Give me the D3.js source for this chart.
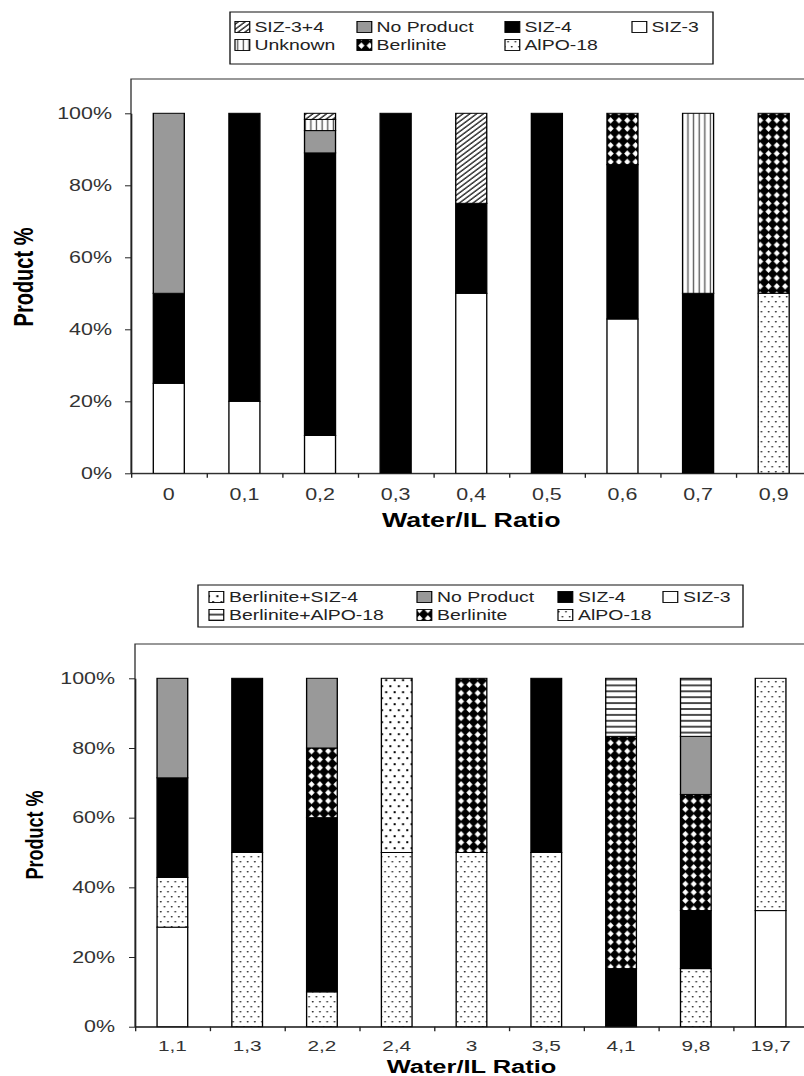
<!DOCTYPE html>
<html>
<head>
<meta charset="utf-8">
<script src="https://cdn.jsdelivr.net/npm/d3@7"></script>
<style>
  body { margin: 0; background: #fff; }
  svg { display: block; }
  text { font-family: "Liberation Sans", Arial, sans-serif; }
</style>
</head>
<body>
<svg id="chart" width="804" height="1076"></svg>
<script>
// The source picture is stretched sideways, so everything is drawn
// in an unstretched space and scaled by SX on x.
const SX = 1.34;

// ---- top chart: series listed bottom-to-top of the stack ----
const topRatios    = ["0", "0,1", "0,2", "0,3", "0,4", "0,5", "0,6", "0,7", "0,9"];
const topSeries    = ["SIZ-3", "AlPO-18", "SIZ-4", "Berlinite", "No Product", "Unknown", "SIZ-3+4"];
const topSIZ3      = [25, 20, 10.5, 0, 50, 0, 42.86, 0, 0];
const topAlPO18    = [0, 0, 0, 0, 0, 0, 0, 0, 50];
const topSIZ4      = [25, 80, 78.5, 100, 25, 100, 42.86, 50, 0];
const topBerlinite = [0, 0, 0, 0, 0, 0, 14.28, 0, 50];
const topNoProduct = [50, 0, 6.2, 0, 0, 0, 0, 0, 0];
const topUnknown   = [0, 0, 3.1, 0, 0, 0, 0, 50, 0];
const topSIZ34     = [0, 0, 1.7, 0, 25, 0, 0, 0, 0];

// ---- bottom chart ----
const botRatios    = ["1,1", "1,3", "2,2", "2,4", "3", "3,5", "4,1", "9,8", "19,7"];
const botSeries    = ["SIZ-3", "AlPO-18", "SIZ-4", "Berlinite", "No Product", "Berlinite+AlPO-18", "Berlinite+SIZ-4"];
const botSIZ3      = [28.57, 0, 0, 0, 0, 0, 0, 0, 33.33];
const botAlPO18    = [14.29, 50, 10, 50, 50, 50, 0, 16.67, 66.67];
const botSIZ4      = [28.57, 50, 50, 0, 0, 50, 16.67, 16.67, 0];
const botBerlinite = [0, 0, 20, 0, 50, 0, 66.67, 33.33, 0];
const botNoProduct = [28.57, 0, 20, 0, 0, 0, 0, 16.67, 0];
const botBerlAlPO  = [0, 0, 0, 0, 0, 0, 16.66, 16.66, 0];
const botBerlSIZ4  = [0, 0, 0, 50, 0, 0, 0, 0, 0];

const yTicks = [0, 20, 40, 60, 80, 100];

const fills = {
    "SIZ-3": "#fff",
    "SIZ-4": "#000",
    "No Product": "#999",
    "SIZ-3+4": "url(#hatch)",
    "Unknown": "url(#vlines)",
    "Berlinite": "url(#diamond)",
    "AlPO-18": "url(#dots)",
    "Berlinite+AlPO-18": "url(#hlines)",
    "Berlinite+SIZ-4": "url(#bigdots)"
};

const svg = d3.select("#chart");
const defs = svg.append("defs");

// diagonal hatch
const hatch = defs.append("pattern").attr("id", "hatch")
    .attr("patternUnits", "userSpaceOnUse").attr("width", 3.6).attr("height", 3.6)
    .attr("patternTransform", "rotate(45)");
hatch.append("rect").attr("width", 3.6).attr("height", 3.6).attr("fill", "#fff");
hatch.append("line").attr("x1", 0.8).attr("x2", 0.8).attr("y1", 0).attr("y2", 3.6)
    .attr("stroke", "#222").attr("stroke-width", 1.2);

// vertical lines
const vl = defs.append("pattern").attr("id", "vlines")
    .attr("patternUnits", "userSpaceOnUse").attr("width", 4.2).attr("height", 4);
vl.append("rect").attr("width", 4.2).attr("height", 4).attr("fill", "#fff");
vl.append("line").attr("x1", 1).attr("x2", 1).attr("y1", 0).attr("y2", 4)
    .attr("stroke", "#555").attr("stroke-width", 1);

// horizontal lines
const hl = defs.append("pattern").attr("id", "hlines")
    .attr("patternUnits", "userSpaceOnUse").attr("width", 4).attr("height", 5.9);
hl.append("rect").attr("width", 4).attr("height", 5.9).attr("fill", "#fff");
hl.append("line").attr("x1", 0).attr("x2", 4).attr("y1", 1).attr("y2", 1)
    .attr("stroke", "#000").attr("stroke-width", 1.4);

// berlinite: white diamonds on black
const dm = defs.append("pattern").attr("id", "diamond")
    .attr("patternUnits", "userSpaceOnUse").attr("width", 6.2).attr("height", 8.3);
dm.append("rect").attr("width", 6.2).attr("height", 8.3).attr("fill", "#000");
dm.append("polygon").attr("points", "3.1,1.0 5.4,4.15 3.1,7.3 0.8,4.15").attr("fill", "#fff");

// small dots
const dt = defs.append("pattern").attr("id", "dots")
    .attr("patternUnits", "userSpaceOnUse").attr("width", 5.4).attr("height", 10);
dt.append("rect").attr("width", 5.4).attr("height", 10).attr("fill", "#fff");
dt.append("circle").attr("cx", 1.2).attr("cy", 1.8).attr("r", 0.75).attr("fill", "#222");
dt.append("circle").attr("cx", 3.9).attr("cy", 6.8).attr("r", 0.75).attr("fill", "#222");

// big dots
const bd = defs.append("pattern").attr("id", "bigdots")
    .attr("patternUnits", "userSpaceOnUse").attr("width", 6.3).attr("height", 12);
bd.append("rect").attr("width", 6.3).attr("height", 12).attr("fill", "#fff");
bd.append("rect").attr("x", 0.8).attr("y", 1.2).attr("width", 1.5).attr("height", 2).attr("fill", "#000");
bd.append("rect").attr("x", 3.95).attr("y", 7.2).attr("width", 1.5).attr("height", 2).attr("fill", "#000");

const root = svg.append("g").attr("transform", `scale(${SX},1)`);

function drawPanel(p) {
    const g = root.append("g");
    const n = p.ratios.length;

    // build rows for d3.stack
    const table = p.ratios.map((r, i) => {
        const row = { ratio: r };
        p.series.forEach((s, j) => { row[s] = p.values[j][i]; });
        return row;
    });
    const stacked = d3.stack().keys(p.series)(table);

    const x = d3.scaleBand().domain(p.ratios).range([p.left, p.right])
        .paddingInner(0.59).paddingOuter(0.295);
    const xEdge = d3.scaleLinear().domain([0, n]).range([p.left, p.right]);
    const y = d3.scaleLinear().domain([0, 100]).range([p.bottom, p.top]);

    // plot area frame (right edge falls off the page)
    g.append("rect")
        .attr("x", p.left).attr("y", p.frameTop)
        .attr("width", 650 - p.left).attr("height", p.bottom - p.frameTop)
        .attr("fill", "none").attr("stroke", "#333").attr("stroke-width", 1);

    // stacked segments
    stacked.forEach(layer => {
        g.append("g").selectAll("rect")
            .data(layer.filter(d => d[1] - d[0] > 0))
            .enter()
            .append("rect")
            .attr("x", d => x(d.data.ratio))
            .attr("width", x.bandwidth())
            .attr("y", d => y(d[1]))
            .attr("height", d => y(d[0]) - y(d[1]))
            .attr("fill", fills[layer.key])
            .attr("stroke", "#000")
            .attr("stroke-width", 1);
    });

    // y axis
    const yAxis = g.append("g")
        .attr("transform", `translate(${p.left},0)`)
        .call(d3.axisLeft(y).tickValues(yTicks).tickFormat(d => d + "%")
            .tickSize(4.5).tickSizeOuter(0).tickPadding(p.yPad));
    yAxis.attr("color", "#222");
    yAxis.selectAll("text").attr("font-size", 16).attr("font-family", "Liberation Sans, Arial, sans-serif")
        .attr("fill", "#333");

    // x axis line with ticks between categories
    g.append("g")
        .attr("transform", `translate(0,${p.bottom})`)
        .attr("color", "#222")
        .call(d3.axisBottom(xEdge).tickValues(d3.range(0, n + 1)).tickFormat("")
            .tickSize(4.5).tickSizeOuter(0));

    // category labels
    const xAxis = g.append("g")
        .attr("transform", `translate(0,${p.bottom})`)
        .call(d3.axisBottom(x).tickSize(0).tickPadding(p.xPad));
    xAxis.select(".domain").remove();
    xAxis.selectAll("text").attr("font-size", p.xFont).attr("font-family", "Liberation Sans, Arial, sans-serif")
        .attr("fill", "#333");

    // axis titles
    g.append("text")
        .attr("x", (p.left + p.right) / 2)
        .attr("y", p.xTitleY)
        .attr("text-anchor", "middle")
        .attr("font-weight", "bold")
        .attr("font-size", p.xTitleSize)
        .text("Water/IL Ratio");

    g.append("text")
        .attr("transform", `translate(${p.yTitleX},${p.yTitleY}) rotate(-90)`)
        .attr("text-anchor", "middle")
        .attr("font-weight", "bold")
        .attr("font-size", p.yTitleSize)
        .text("Product %");

    // legend, column-major, two rows, series reversed
    const lg = g.append("g");
    lg.append("rect")
        .attr("x", p.legend.x0).attr("y", p.legend.y0)
        .attr("width", p.legend.x1 - p.legend.x0).attr("height", p.legend.y1 - p.legend.y0)
        .attr("fill", "#fff").attr("stroke", "#111").attr("stroke-width", 1);
    const items = p.series.slice().reverse();
    items.forEach((name, i) => {
        const cx = p.legend.cols[Math.floor(i / 2)];
        const cy = p.legend.rows[i % 2];
        lg.append("rect")
            .attr("x", cx).attr("y", cy - 5.5)
            .attr("width", 11).attr("height", 11)
            .attr("fill", fills[name]).attr("stroke", "#000").attr("stroke-width", 0.9);
        lg.append("text")
            .attr("x", cx + p.legend.textGap).attr("y", cy + 5)
            .attr("font-size", 14.5).attr("fill", "#222")
            .text(name);
    });
}

drawPanel({
    ratios: topRatios,
    series: topSeries,
    values: [topSIZ3, topAlPO18, topSIZ4, topBerlinite, topNoProduct, topUnknown, topSIZ34],
    left: 131 / SX, right: 811.5 / SX,
    top: 113.3, bottom: 473.3, frameTop: 79,
    yPad: 9.7, xPad: 15.3, xFont: 16,
    xTitleY: 527, xTitleSize: 20,
    yTitleX: 24.6, yTitleY: 277, yTitleSize: 20,
    legend: {
        x0: 230 / SX, x1: 713 / SX, y0: 12, y1: 64,
        cols: [235 / SX, 357 / SX, 505 / SX, 632 / SX],
        rows: [27, 45], textGap: 14.5
    }
});

drawPanel({
    ratios: botRatios,
    series: botSeries,
    values: [botSIZ3, botAlPO18, botSIZ4, botBerlinite, botNoProduct, botBerlAlPO, botBerlSIZ4],
    left: 135 / SX, right: 808 / SX,
    top: 678.3, bottom: 1026.7, frameTop: 644,
    yPad: 10.4, xPad: 12.9, xFont: 15.5,
    xTitleY: 1073, xTitleSize: 19,
    yTitleX: 32.1, yTitleY: 835, yTitleSize: 18,
    legend: {
        x0: 198 / SX, x1: 743 / SX, y0: 585, y1: 627,
        cols: [209 / SX, 417 / SX, 558 / SX, 663 / SX],
        rows: [597, 615], textGap: 15
    }
});
</script>
</body>
</html>
